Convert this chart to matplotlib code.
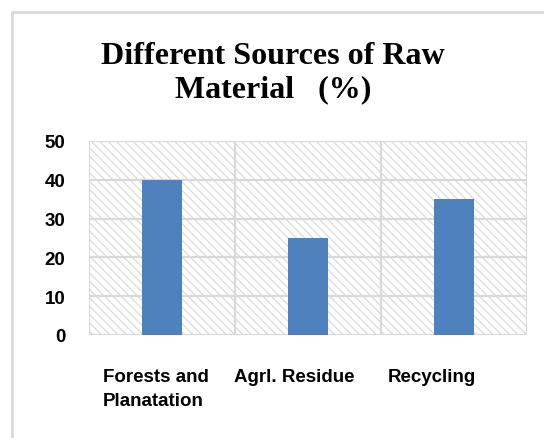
"""Bar chart: different sources of raw material (%)."""

import matplotlib

matplotlib.use("Agg")
import matplotlib.pyplot as plt
from matplotlib.lines import Line2D
from matplotlib.patches import Rectangle
from matplotlib.transforms import ScaledTranslation

categories = ["Forests and\nPlanatation", "Agrl. Residue", "Recycling"]
shares = [40, 25, 35]
y_ticks = [0, 10, 20, 30, 40, 50]
title = "Different Sources of Raw\nMaterial   (%)"

GRID = "#d9d9d9"
BAR = "#4f81bd"
LABEL_FONT = ["Liberation Sans", "DejaVu Sans"]

plt.rcParams["hatch.linewidth"] = 1.0
plt.rcParams["hatch.color"] = "#dedede"

fig = plt.figure(figsize=(5.44, 4.39), dpi=100)
W, H = 544, 439

# outer chart border (only left and top edges fall inside the picture)
fig.lines.append(Line2D([12 / W, 12 / W, 1.0], [0.0, 1 - 13 / H, 1 - 13 / H],
                        transform=fig.transFigure, color=GRID, linewidth=2))

ax = fig.add_axes([89 / W, 1 - 336 / H, (527 - 89) / W, (336 - 142) / H])
ax.set_xlim(-0.5, len(categories) - 0.5)
ax.set_ylim(0, 50)

# hatched plot background
ax.add_patch(Rectangle((0, 0), 1, 1, transform=ax.transAxes, facecolor="white",
                       edgecolor="#dedede", hatch="\\\\\\\\", linewidth=0, zorder=0))

for y in y_ticks:
    ax.axhline(y, color=GRID, linewidth=1.6, zorder=1)
for b in range(len(categories) + 1):
    ax.axvline(b - 0.5, color=GRID, linewidth=1.6, zorder=1)

ax.bar(range(len(categories)), shares, width=0.27, color=BAR, zorder=2)

for side in ax.spines.values():
    side.set_visible(False)
ax.tick_params(length=0)
ax.set_yticks(y_ticks)
ax.set_yticklabels([str(v) for v in y_ticks], fontsize=13.5, fontweight="bold",
                   family=LABEL_FONT)
ax.tick_params(axis="y", pad=17)
ax.set_xticks(range(len(categories)))
ax.set_xticklabels(categories, fontsize=13.5, fontweight="bold", family=LABEL_FONT,
                   linespacing=1.5, ha="center", multialignment="left")
ax.tick_params(axis="x", pad=24)
for label, dx in zip(ax.get_xticklabels(), [-6, -14, -22]):
    label.set_transform(label.get_transform() + ScaledTranslation(dx / 100, 0, fig.dpi_scale_trans))

fig.text(273 / W, 1 - 73 / H, title, ha="center", va="center", fontsize=23,
         fontweight="bold", family=["Liberation Serif", "DejaVu Serif"], linespacing=1.2)

fig.savefig("out.png", dpi=100)
